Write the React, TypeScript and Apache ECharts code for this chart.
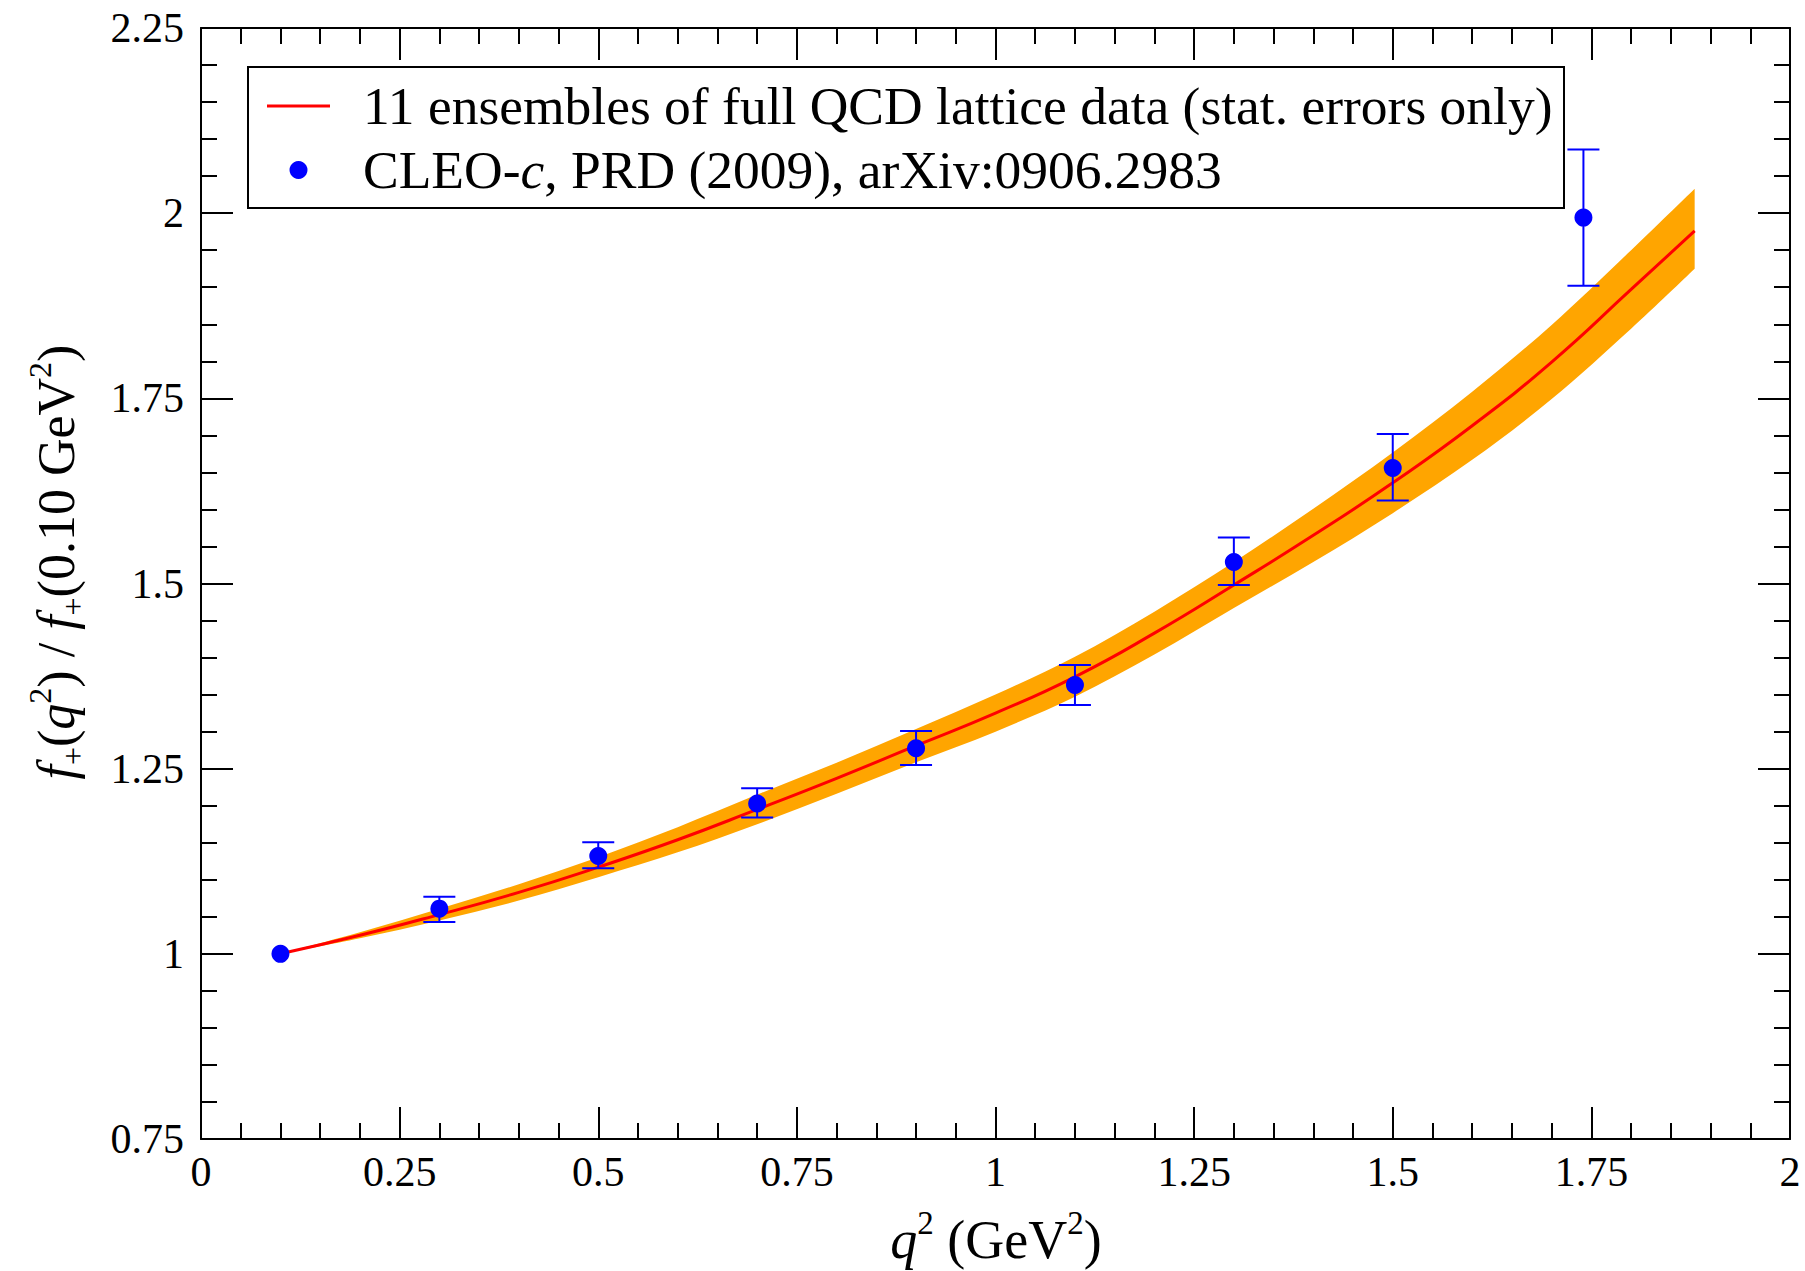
import React, { useEffect, useRef } from 'react';
import * as echarts from 'echarts';

// Lattice fit curve (red) and its error band (orange)
const curveX = [0.1, 0.2, 0.3, 0.4, 0.5, 0.6, 0.7, 0.8, 0.9, 1.0, 1.1, 1.2, 1.3, 1.4, 1.5, 1.6, 1.7, 1.8, 1.88];
const curveY = [1.0, 1.025, 1.053, 1.083, 1.117, 1.154, 1.195, 1.237, 1.281, 1.325, 1.374, 1.433, 1.498, 1.565, 1.636, 1.713, 1.799, 1.897, 1.976];
const bandLower = [1.0, 1.021, 1.045, 1.072, 1.1035, 1.137, 1.175, 1.216, 1.2585, 1.3, 1.347, 1.404, 1.467, 1.529, 1.595, 1.667, 1.749, 1.844, 1.925];
const bandUpper = [1.0, 1.029, 1.061, 1.094, 1.1305, 1.171, 1.215, 1.258, 1.3035, 1.35, 1.401, 1.462, 1.529, 1.601, 1.677, 1.759, 1.849, 1.95, 2.033];

// CLEO-c data points with error bars
const dataX = [0.1, 0.3, 0.5, 0.7, 0.9, 1.1, 1.3, 1.5, 1.74];
const dataY = [1.0, 1.061, 1.132, 1.203, 1.2775, 1.363, 1.529, 1.656, 1.994];
const errLow = [1.0, 1.043, 1.1155, 1.184, 1.255, 1.336, 1.498, 1.612, 1.902];
const errHigh = [1.0, 1.077, 1.1505, 1.2235, 1.301, 1.39, 1.562, 1.702, 2.086];

const xMin = 0, xMax = 2, xInterval = 0.25;
const yMin = 0.75, yMax = 2.25, yInterval = 0.25;

const curveName = '11 ensembles of full QCD lattice data (stat. errors only)';
const cleoName = 'CLEO-c, PRD (2009), arXiv:0906.2983';

const FONT = "'Liberation Serif', 'Times New Roman', serif";

// Smooth filled band shape (Catmull-Rom through the given vertices)
function catmull(ctx: any, pts: number[][]) {
  for (let i = 0; i < pts.length - 1; i++) {
    const p0 = pts[i - 1] || pts[i];
    const p1 = pts[i];
    const p2 = pts[i + 1];
    const p3 = pts[i + 2] || pts[i + 1];
    ctx.bezierCurveTo(
      p1[0] + (p2[0] - p0[0]) / 6, p1[1] + (p2[1] - p0[1]) / 6,
      p2[0] - (p3[0] - p1[0]) / 6, p2[1] - (p3[1] - p1[1]) / 6,
      p2[0], p2[1]
    );
  }
}
const BandShape = (echarts as any).graphic.extendShape({
  shape: { upper: [] as number[][], lower: [] as number[][] },
  buildPath(ctx: any, shape: any) {
    const up = shape.upper;
    const lo = shape.lower.slice().reverse();
    if (!up.length) return;
    ctx.moveTo(up[0][0], up[0][1]);
    catmull(ctx, up);
    ctx.lineTo(lo[0][0], lo[0][1]);
    catmull(ctx, lo);
    ctx.closePath();
  },
});
(echarts as any).graphic.registerShape('bandShape', BandShape);

function makeRich(size: number) {
  const small = Math.round(size * 0.62);
  const lh = Math.round(size * 1.25);
  return {
    n: { fontFamily: FONT, fontSize: size, lineHeight: lh, color: '#000' },
    i: { fontFamily: FONT, fontSize: size, lineHeight: lh, fontStyle: 'italic', color: '#000' },
    sup: { fontFamily: FONT, fontSize: small, lineHeight: small, verticalAlign: 'top', color: '#000' },
    sub: { fontFamily: FONT, fontSize: small, lineHeight: small, verticalAlign: 'bottom', color: '#000' },
  };
}

function axisBase(min: number, max: number, interval: number, position: string, showLabel: boolean, labelMargin: number) {
  return {
    type: 'value',
    position,
    min,
    max,
    interval,
    axisLine: { show: true, onZero: false, lineStyle: { color: '#000', width: 2 } },
    axisTick: { show: true, inside: true, length: 32, lineStyle: { color: '#000', width: 2 } },
    minorTick: { show: true, splitNumber: 5, length: 16, lineStyle: { color: '#000', width: 2 } },
    splitLine: { show: false },
    minorSplitLine: { show: false },
    axisLabel: {
      show: showLabel,
      color: '#000',
      fontFamily: FONT,
      fontSize: 42,
      margin: labelMargin,
    },
  };
}

export default function App() {
  const ref = useRef<HTMLDivElement>(null);
  useEffect(() => {
    const chart = echarts.init(ref.current!, null, { renderer: 'svg' });
    const curveData = curveX.map((x, i) => [x, curveY[i]]);
    const pointData = dataX.map((x, i) => [x, dataY[i]]);
    const errData = dataX.map((x, i) => [x, errLow[i], errHigh[i]]);

    const option = {
      animation: false,
      backgroundColor: '#fff',
      grid: { left: 201, top: 28, width: 1589, height: 1111, containLabel: false },
      xAxis: [
        axisBase(xMin, xMax, xInterval, 'bottom', true, 12),
        axisBase(xMin, xMax, xInterval, 'top', false, 12),
      ],
      yAxis: [
        axisBase(yMin, yMax, yInterval, 'left', true, 17),
        axisBase(yMin, yMax, yInterval, 'right', false, 17),
      ],
      legend: {
        show: true,
        orient: 'vertical',
        left: 267,
        top: 79,
        padding: 0,
        itemGap: 10,
        itemWidth: 63,
        itemHeight: 18,
        selectedMode: false,
        data: [
          { name: curveName, icon: 'path://M0 0H63V3H0Z' },
          { name: cleoName, icon: 'circle' },
        ],
        formatter: (name: string) =>
          name === cleoName
            ? '{n|CLEO-}{i|c}{n|, PRD (2009), arXiv:0906.2983}'
            : '{n|' + name + '}',
        textStyle: {
          padding: [0, 0, 0, 28],
          rich: {
            n: { fontFamily: FONT, fontSize: 53.5, color: '#000' },
            i: { fontFamily: FONT, fontSize: 53.5, fontStyle: 'italic', color: '#000' },
          },
        },
      },
      graphic: [
        {
          type: 'rect',
          shape: { x: 248, y: 67, width: 1316, height: 141 },
          style: { fill: 'none', stroke: '#000', lineWidth: 2 },
          z: 10,
        },
        {
          type: 'text',
          x: 996,
          y: 1240,
          style: {
            text: '{i|q}{sup|2}{n| (GeV}{sup|2}{n|)}',
            align: 'center',
            verticalAlign: 'middle',
            textAlign: 'center',
            textVerticalAlign: 'middle',
            rich: makeRich(54),
          },
        },
        {
          type: 'text',
          x: 56,
          y: 562,
          rotation: Math.PI / 2,
          style: {
            text: '{i|f}{sub|+}{n|(}{i|q}{sup|2}{n|) / }{i|f}{sub|+}{n|(0.10 GeV}{sup|2}{n|)}',
            align: 'center',
            verticalAlign: 'middle',
            textAlign: 'center',
            textVerticalAlign: 'middle',
            rich: makeRich(52),
          },
        },
      ],
      series: [
        {
          name: 'band',
          type: 'custom',
          data: [[curveX[0], bandLower[0]]],
          z: 1,
          silent: true,
          renderItem: (params: any, api: any) => {
            const upper = curveX.map((x, i) => api.coord([x, bandUpper[i]]));
            const lower = curveX.map((x, i) => api.coord([x, bandLower[i]]));
            return {
              type: 'bandShape',
              shape: { upper, lower },
              style: { fill: '#ffa500', stroke: 'none' },
            };
          },
        },
        {
          name: curveName,
          type: 'line',
          data: curveData,
          smooth: true,
          symbol: 'none',
          showSymbol: false,
          lineStyle: { color: '#ff0000', width: 3 },
          itemStyle: { color: '#ff0000' },
          z: 2,
        },
        {
          name: 'errorbars',
          type: 'custom',
          data: errData,
          z: 3,
          silent: true,
          renderItem: (params: any, api: any) => {
            const x = api.value(0);
            const lo = api.value(1);
            const hi = api.value(2);
            if (hi - lo <= 0) return { type: 'group', children: [] };
            const pLo = api.coord([x, lo]);
            const pHi = api.coord([x, hi]);
            const cap = 16;
            const style = { stroke: '#0000ff', lineWidth: 2 };
            return {
              type: 'group',
              children: [
                { type: 'line', shape: { x1: pLo[0], y1: pLo[1], x2: pHi[0], y2: pHi[1] }, style },
                { type: 'line', shape: { x1: pLo[0] - cap, y1: pLo[1], x2: pLo[0] + cap, y2: pLo[1] }, style },
                { type: 'line', shape: { x1: pHi[0] - cap, y1: pHi[1], x2: pHi[0] + cap, y2: pHi[1] }, style },
              ],
            };
          },
        },
        {
          name: cleoName,
          type: 'scatter',
          data: pointData,
          symbol: 'circle',
          symbolSize: 18,
          itemStyle: { color: '#0000ff', opacity: 1 },
          z: 4,
        },
      ],
    };
    chart.setOption(option as any);
    return () => chart.dispose();
  }, []);
  return (
    <div
      ref={ref}
      style={{ position: 'fixed', left: 0, top: 0, width: 1805, height: 1271, background: '#fff' }}
    />
  );
}
